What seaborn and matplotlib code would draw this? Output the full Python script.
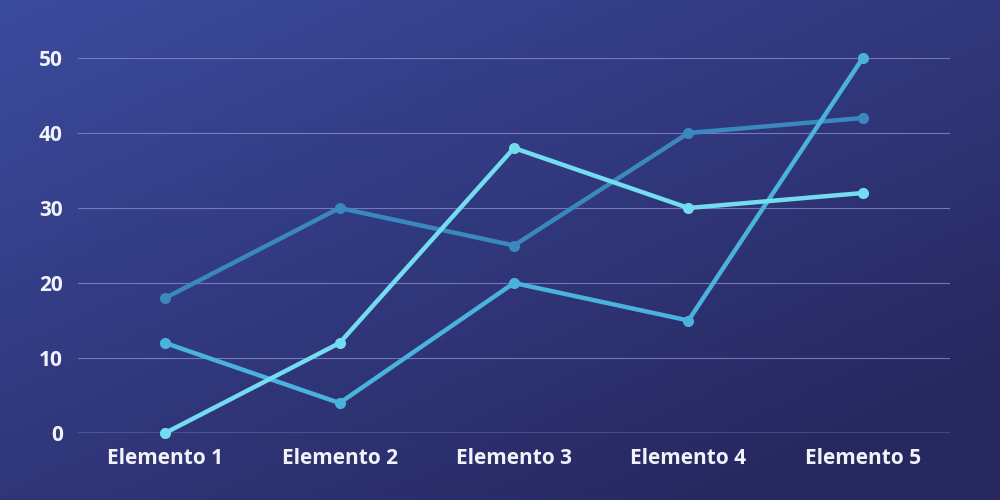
import numpy as np
import pandas as pd
import matplotlib
matplotlib.use("Agg")
import matplotlib.pyplot as plt
import seaborn as sns

# dados do grafico
categorias = ["Elemento 1", "Elemento 2", "Elemento 3", "Elemento 4", "Elemento 5"]
serie_a = [18, 30, 25, 40, 42]
serie_b = [12, 4, 20, 15, 50]
serie_c = [0, 12, 38, 30, 32]
y_ticks = [0, 10, 20, 30, 40, 50]

df = pd.DataFrame({
    "categoria": categorias * 3,
    "valor": serie_a + serie_b + serie_c,
    "serie": ["A"] * 5 + ["B"] * 5 + ["C"] * 5,
})

sns.set_theme(style="white")
plt.rcParams["font.family"] = ["Open Sans", "DejaVu Sans"]

fig = plt.figure(figsize=(10, 5), dpi=100)

# fundo em degrade (azul em cima a esquerda, mais escuro embaixo a direita)
bg = fig.add_axes([0, 0, 1, 1], zorder=0)
xx, yy = np.meshgrid(np.linspace(0, 1, 200), np.linspace(0, 1, 100))
t = np.clip(0.55 * xx + 0.6 * yy, 0, 1)
c1 = np.array([0x3b, 0x4b, 0x9e]) / 255
c2 = np.array([0x28, 0x28, 0x60]) / 255
img = c1[None, None, :] * (1 - t[..., None]) + c2[None, None, :] * t[..., None]
bg.imshow(img, aspect="auto", extent=[0, 1, 0, 1])
bg.axis("off")

ax = fig.add_axes([0.078, 0.134, 0.872, 0.75], zorder=1)
ax.patch.set_alpha(0)

cores = {"A": "#3a88be", "B": "#4ab2dc", "C": "#74dcf0"}
sns.lineplot(data=df, x="categoria", y="valor", hue="serie", palette=cores,
             marker="o", markersize=8, markeredgewidth=0, linewidth=3.2,
             legend=False, ax=ax, sort=False)
for ln in ax.lines:
    ln.set_clip_on(False)
    ln.set_solid_capstyle("round")

ax.set_xlim(-0.5, 4.5)
ax.set_ylim(0, 50)
ax.set_yticks(y_ticks)
ax.grid(axis="y", color="#8a90d0", linewidth=0.8, alpha=0.75)
ax.set_axisbelow(True)
ax.axhline(0, color="#b8bcec", linewidth=1, zorder=0.5)
for s in ax.spines.values():
    s.set_visible(False)
ax.set_xlabel("")
ax.set_ylabel("")
ax.tick_params(axis="both", length=0, colors="#f2f2fa", labelsize=15)
ax.tick_params(axis="x", pad=11)
ax.tick_params(axis="y", pad=11)
for lab in ax.get_xticklabels() + ax.get_yticklabels():
    lab.set_fontweight("bold")

fig.savefig("out.png", dpi=100)
